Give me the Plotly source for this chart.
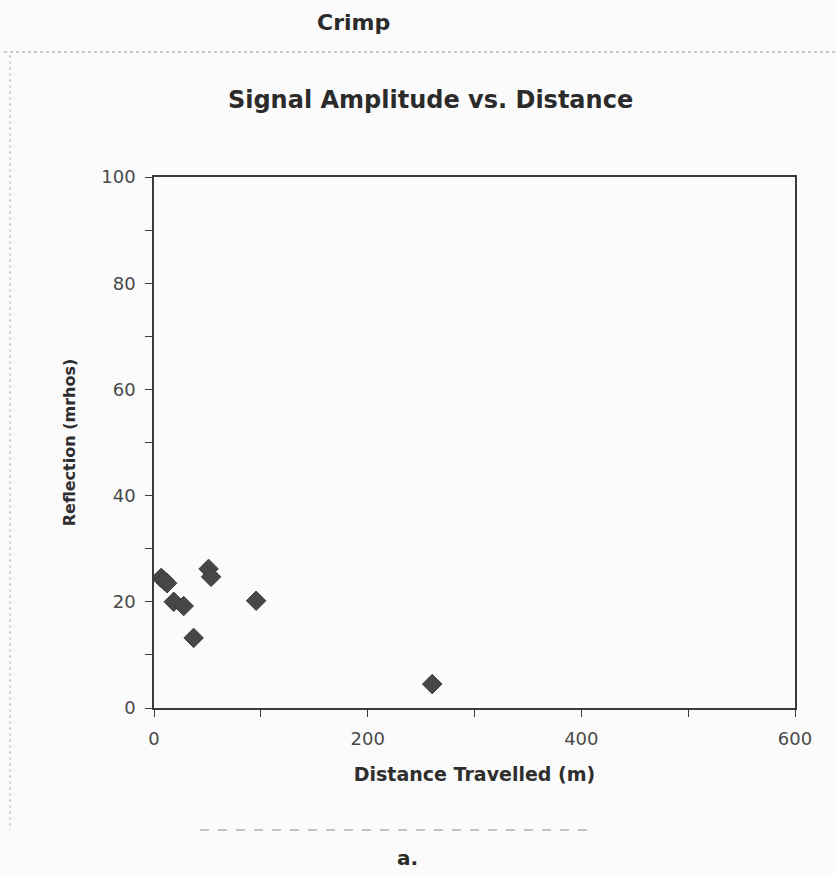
import plotly.graph_objects as go

# Measured reflections for the crimp fault at each distance travelled
distance_m = [6.7, 9.5, 12.3, 18.5, 27.8, 37.1, 51.1, 53.4, 95.6, 260.4]
reflection_mrhos = [24.5, 24.0, 23.5, 20.0, 19.2, 13.2, 26.2, 24.7, 20.2, 4.5]

x_ticks = [0, 200, 400, 600]
y_ticks = [0, 20, 40, 60, 80, 100]

INK = "#3a3a3a"
FONT = "DejaVu Sans, Liberation Sans, sans-serif"

fig = go.Figure(
    go.Scatter(
        x=distance_m,
        y=reflection_mrhos,
        mode="markers",
        marker=dict(symbol="diamond", size=15, color="#474747",
                    line=dict(color="#3a3a3a", width=1)),
        hoverinfo="x+y",
    )
)

axis_common = dict(
    showline=True,
    linecolor=INK,
    linewidth=1.6,
    mirror=True,
    showgrid=False,
    zeroline=False,
    ticks="outside",
    tickcolor=INK,
    tickwidth=1.4,
    ticklen=7,
    tickfont=dict(family=FONT, size=18, color="#4a4a4a"),
    minor=dict(ticks="outside", ticklen=7, tickcolor=INK, tickwidth=1.4),
)

fig.update_xaxes(
    range=[0, 600],
    tickvals=x_ticks,
    minor_dtick=100,
    ticklabelstandoff=7,
    title=dict(text="<b>Distance Travelled (m)</b>",
               font=dict(family=FONT, size=19, color="#2e2e2e"), standoff=19),
    **axis_common,
)
fig.update_yaxes(
    range=[0, 100],
    tickvals=y_ticks,
    minor_dtick=10,
    ticklabelstandoff=6,
    title=dict(text="<b>Reflection (mrhos)</b>",
               font=dict(family=FONT, size=16, color="#2e2e2e"), standoff=22),
    **axis_common,
)

fig.update_layout(
    width=836,
    height=875,
    margin=dict(l=154, r=41, t=177, b=167),
    paper_bgcolor="#fbfbfb",
    plot_bgcolor="#fbfbfb",
    showlegend=False,
    title=dict(
        text="<b>Signal Amplitude vs. Distance</b>",
        font=dict(family=FONT, size=24, color="#2b2b2b"),
        x=0.515, xanchor="center",
        y=1 - 100 / 875, yanchor="middle",
    ),
    annotations=[
        dict(text="<b>Crimp</b>", xref="paper", yref="paper",
             x=(353 - 154) / 641, y=1 + (177 - 22) / 531,
             xanchor="center", yanchor="middle", showarrow=False,
             font=dict(family=FONT, size=22, color="#2b2b2b")),
        dict(text="<b>a.</b>", xref="paper", yref="paper",
             x=(407 - 154) / 641, y=-(858 - 708) / 531,
             xanchor="center", yanchor="middle", showarrow=False,
             font=dict(family=FONT, size=20, color="#2b2b2b")),
    ],
    shapes=[
        # faint frame around the chart panel
        dict(type="line", xref="paper", yref="paper",
             x0=-150 / 641, x1=(836 - 154) / 641,
             y0=1 + (177 - 52) / 531, y1=1 + (177 - 52) / 531,
             line=dict(color="#9a9a9a", width=1, dash="dot")),
        dict(type="line", xref="paper", yref="paper",
             x0=-(154 - 10) / 641, x1=-(154 - 10) / 641,
             y0=1 + (177 - 55) / 531, y1=-(830 - 708) / 531,
             line=dict(color="#b5b5b5", width=1, dash="dot")),
        dict(type="line", xref="paper", yref="paper",
             x0=(200 - 154) / 641, x1=(590 - 154) / 641,
             y0=-(830 - 708) / 531, y1=-(830 - 708) / 531,
             line=dict(color="#8a8a8a", width=1, dash="dash")),
    ],
)

fig.write_html("out.html")
